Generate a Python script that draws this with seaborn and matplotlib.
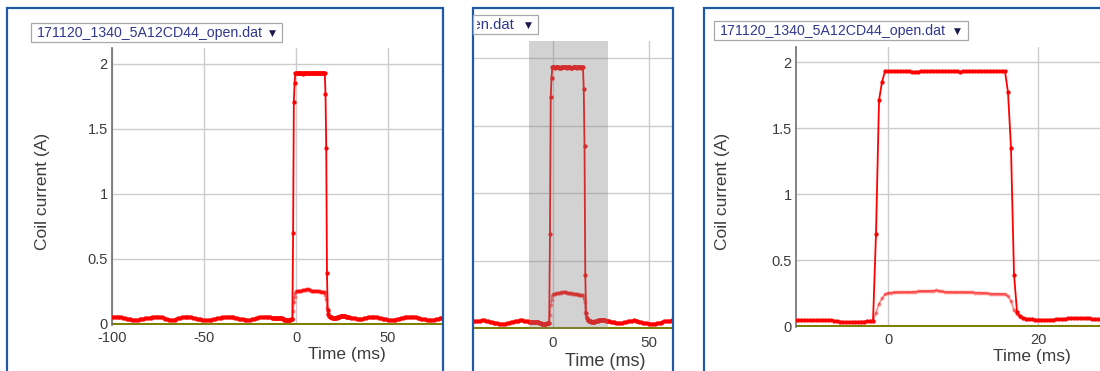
import numpy as np
import matplotlib
matplotlib.use("Agg")
import matplotlib.pyplot as plt
from matplotlib.patches import Rectangle
from matplotlib.transforms import Bbox, TransformedBbox
import seaborn as sns

# ---------------------------------------------------------------- data
FILE_NAME = "171120_1340_5A12CD44_open.dat"

# coil current, coarse samples (1 ms) before the pulse window
t_pre = np.arange(-100.0, -12.5, 1.0)
i_pre = [
    0.052, 0.055, 0.057, 0.056, 0.053, 0.050, 0.047, 0.044, 0.041, 0.038,
    0.036, 0.034, 0.033, 0.032, 0.033, 0.035, 0.038, 0.041, 0.043, 0.044,
    0.046, 0.048, 0.051, 0.054, 0.056, 0.057, 0.055, 0.051, 0.046, 0.041,
    0.037, 0.034, 0.032, 0.031, 0.033, 0.037, 0.042, 0.047, 0.051, 0.054,
    0.056, 0.057, 0.055, 0.052, 0.048, 0.044, 0.041, 0.038, 0.036, 0.034,
    0.033, 0.032, 0.031, 0.032, 0.034, 0.037, 0.040, 0.043, 0.046, 0.049,
    0.051, 0.053, 0.055, 0.056, 0.057, 0.055, 0.052, 0.048, 0.044, 0.040,
    0.037, 0.035, 0.033, 0.032, 0.031, 0.032, 0.035, 0.039, 0.043, 0.047,
    0.050, 0.053, 0.055, 0.056, 0.057, 0.055, 0.052, 0.049,
]

# coil current, fine samples (0.4 ms) around the pulse
t_win = np.round(np.arange(-12.4, 28.41, 0.4), 1)
i_win = [
    # -12.4 .. -2.0
    0.047, 0.046, 0.045, 0.045, 0.045, 0.046, 0.045, 0.045, 0.046, 0.045,
    0.046, 0.045, 0.044, 0.041, 0.037, 0.034, 0.032, 0.031, 0.031, 0.031,
    0.032, 0.032, 0.033, 0.034, 0.035, 0.036, 0.038,
    # rising edge -1.6 .. -0.4
    0.70, 1.71, 1.85, 1.93,
    # plateau 0.0 .. 15.6
    1.930, 1.931, 1.930, 1.929, 1.930, 1.930, 1.931, 1.930, 1.927, 1.926,
    1.928, 1.930, 1.931, 1.930, 1.930, 1.931, 1.930, 1.930, 1.929, 1.930,
    1.930, 1.931, 1.930, 1.929, 1.928, 1.929, 1.930, 1.930, 1.931, 1.930,
    1.930, 1.929, 1.930, 1.931, 1.930, 1.930, 1.930, 1.929, 1.930, 1.930,
    # falling edge and tail 16.0 .. 28.4
    1.77, 1.35, 0.39, 0.11, 0.075, 0.062, 0.056, 0.052, 0.050, 0.049,
    0.048, 0.048, 0.047, 0.047, 0.048, 0.049, 0.050, 0.052, 0.054, 0.056,
    0.058, 0.059, 0.060, 0.060, 0.060, 0.060, 0.059, 0.058, 0.056, 0.055,
    0.054, 0.053,
]

# coil current, coarse samples (1 ms) after the pulse window
t_post = np.arange(29.0, 80.5, 1.0)
i_post = [
    0.051, 0.048, 0.045, 0.042, 0.040, 0.038, 0.037, 0.039, 0.042, 0.046,
    0.050, 0.053, 0.055, 0.056, 0.055, 0.052, 0.048, 0.044, 0.040, 0.037,
    0.035, 0.033, 0.032, 0.031, 0.032, 0.034, 0.037, 0.041, 0.045, 0.049,
    0.052, 0.054, 0.055, 0.056, 0.057, 0.056, 0.053, 0.049, 0.045, 0.041,
    0.038, 0.035, 0.033, 0.032, 0.031, 0.032, 0.034, 0.037, 0.040, 0.043,
    0.046, 0.048,
]

# second (light) trace, only distinct from the main trace during the pulse
t_aux = np.round(np.arange(-2.4, 18.81, 0.4), 1)
i_aux = [
    0.036, 0.038, 0.10, 0.17, 0.21, 0.24,
    0.250, 0.253, 0.255, 0.255, 0.256, 0.256, 0.256, 0.257, 0.258, 0.260,
    0.263, 0.265, 0.264, 0.265, 0.266, 0.267, 0.270, 0.268, 0.262, 0.258,
    0.257, 0.256, 0.256, 0.255, 0.256, 0.256, 0.255, 0.255, 0.255, 0.254,
    0.253, 0.252, 0.250, 0.248, 0.246, 0.245, 0.244, 0.244, 0.243, 0.242,
    0.225, 0.19, 0.12, 0.09, 0.07, 0.06, 0.055, 0.052,
]

# reference channel (flat at zero)
t_zero = [-100.0, 80.0]
i_zero = [0.0, 0.0]

# highlighted time window shown in the overview
window = (-12.5, 28.6)

t_main = np.concatenate([t_pre, t_win, t_post])
i_main = np.array(i_pre + i_win + i_post)

# ---------------------------------------------------------------- style
sns.set_theme(style="whitegrid")
plt.rcParams["font.family"] = ["Liberation Sans", "DejaVu Sans"]
plt.rcParams["axes.unicode_minus"] = False

W, H = 1100, 371
FRAME = "#2059a6"
TXT = "#3c3c3c"
LINK = "#30378f"
RED = "#ff0000"
OLIVE = "#808000"

fig = plt.figure(figsize=(W / 100, H / 100), dpi=100)
fig.patch.set_facecolor("white")


def rect(x0, y0, x1, y1):
    return [x0 / W, 1 - y1 / H, (x1 - x0) / W, (y1 - y0) / H]


def fx(x):
    return x / W


def fy(y):
    return 1 - y / H


def make_axes(box, xlim, ylim, xticks, show_y, xlabel_px, ylabel_px=None,
              scale=1.0):
    x0, y0, x1, y1 = box
    ax = fig.add_axes(rect(*box))
    ax.set_facecolor("none")

    sns.lineplot(x=t_zero, y=i_zero, color=OLIVE, lw=2.2, ax=ax,
                 estimator=None, zorder=2)
    sns.lineplot(x=t_aux, y=i_aux, color=RED, alpha=0.45, lw=1.2,
                 marker="o", markersize=2.8, markeredgewidth=0, ax=ax,
                 estimator=None, zorder=3)
    sns.lineplot(x=t_main, y=i_main, color=RED, lw=1.3, marker="o",
                 markersize=3.1, markeredgewidth=0, ax=ax,
                 estimator=None, zorder=4)

    ax.set_xlim(*xlim)
    ax.set_ylim(*ylim)
    ax.set_xticks(xticks)
    ax.set_yticks([0, 0.5, 1, 1.5, 2])
    ax.set_yticklabels(["0", "0.5", "1", "1.5", "2"])
    ax.grid(True, color="#cccccc", lw=1.0)
    ax.set_axisbelow(True)
    ax.tick_params(axis="both", length=0, labelsize=10.5 * scale, colors=TXT)
    ax.tick_params(axis="x", pad=4.5)
    ax.tick_params(axis="y", pad=3, labelleft=show_y)
    for s in ("top", "right", "bottom"):
        ax.spines[s].set_visible(False)
    if show_y:
        ax.spines["left"].set_color("#6e6e6e")
        ax.spines["left"].set_linewidth(1.2)
    else:
        ax.spines["left"].set_visible(False)

    ax.set_xlabel("Time (ms)", fontsize=12.5 * scale, color=TXT)
    lx, ly = xlabel_px
    ax.xaxis.set_label_coords((lx - x0) / (x1 - x0), (y1 - ly) / (y1 - y0))
    ax.xaxis.label.set_va("center")
    if ylabel_px is not None:
        ax.set_ylabel("Coil current (A)", fontsize=12.5 * scale, color=TXT)
        lx, ly = ylabel_px
        ax.yaxis.set_label_coords((lx - x0) / (x1 - x0), (y1 - ly) / (y1 - y0))
        ax.yaxis.label.set_va("center")
    else:
        ax.set_ylabel("")
    return ax


def frame(x0, y0, x1, y1):
    fig.add_artist(Rectangle((fx(x0), fy(y1)), (x1 - x0) / W, (y1 - y0) / H,
                             transform=fig.transFigure, fill=False,
                             ec=FRAME, lw=1.6, zorder=30, clip_on=False))


def dropdown(x0, y0, x1, y1, text_x, arrow_x, clip=None, ha="left",
             size=10.2):
    fig.add_artist(Rectangle((fx(x0), fy(y1)), (x1 - x0) / W, (y1 - y0) / H,
                             transform=fig.transFigure, fc="white",
                             ec="#a8a8a8", lw=0.9, zorder=31))
    yc = fy((y0 + y1) / 2 + 0.5)
    t = fig.text(fx(text_x), yc, FILE_NAME, ha=ha, va="center",
                 fontsize=size, color=LINK, zorder=32)
    if clip is not None:
        cx0, cy0, cx1, cy1 = clip
        t.set_clip_box(TransformedBbox(
            Bbox.from_extents(fx(cx0), fy(cy1), fx(cx1), fy(cy0)),
            fig.transFigure))
        t.set_clip_on(True)
    fig.text(fx(arrow_x), yc, "\u25BC", ha="center", va="center",
             fontsize=6.5, color="#1a1a4a", family="DejaVu Sans", zorder=32)


# ---------------------------------------------------------------- overview
box_l = (112, 48, 442, 324.6)
make_axes(box_l, (-100, 79.3), (-0.005, 2.123), [-100, -50, 0, 50],
          True, (347, 355), (42, 191))
frame(7, 8, 443, 395)
dropdown(31, 23, 282, 42, 37, 272)

# ---------------------------------------------------------------- panned view with window
box_m = (473, 41, 673, 329.4)
ax_m = make_axes(box_m, (-41.7, 62.5), (-0.01, 2.126), [0, 50],
                 False, (605, 361), scale=1.04)
ax_m.axvspan(*window, color="#808080", alpha=0.35, lw=0, zorder=10)
frame(473, 8, 673, 395)
dropdown(473, 15, 538, 34, 515, 528, clip=(476.5, 10, 540, 40), ha="right",
         size=10.7)

# ---------------------------------------------------------------- zoomed window
box_r = (796, 47, 1268, 326.7)
make_axes(box_r, (-12.27, 50.67), (-0.005, 2.114), [0, 20],
          True, (1032, 357), (722, 191))
frame(704, 8, 1130, 395)
dropdown(714, 21, 968, 40, 720, 957)

fig.savefig("out.png", dpi=100)
